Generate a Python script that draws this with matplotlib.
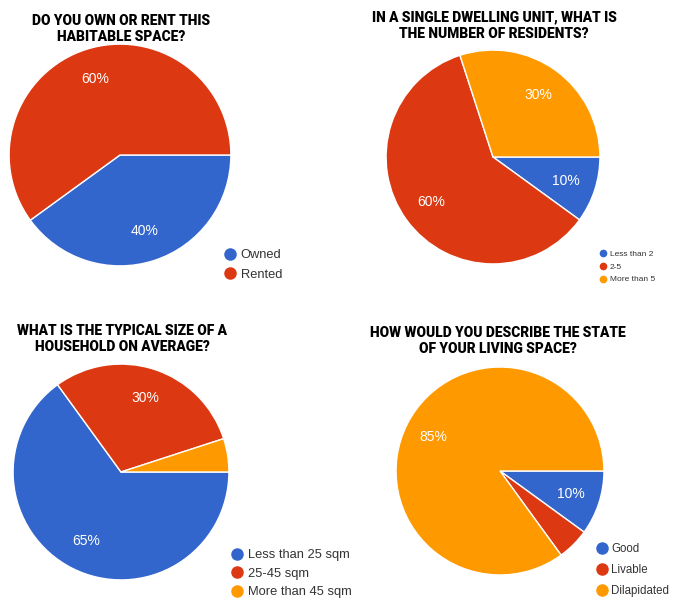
import matplotlib.pyplot as plt
from matplotlib.lines import Line2D

# chart data
titles = [
    "DO YOU OWN OR RENT THIS\nHABITABLE SPACE?",
    "IN A SINGLE DWELLING UNIT, WHAT IS\nTHE NUMBER OF RESIDENTS?",
    "WHAT IS THE TYPICAL SIZE OF A\nHOUSEHOLD ON AVERAGE?",
    "HOW WOULD YOU DESCRIBE THE STATE\nOF YOUR LIVING SPACE?",
]
own_labels = ["Owned", "Rented"]
own_values = [40, 60]
residents_labels = ["Less than 2", "2-5", "More than 5"]
residents_values = [10, 60, 30]
size_labels = ["Less than 25 sqm", "25-45 sqm", "More than 45 sqm"]
size_values = [65, 30, 5]
state_labels = ["Good", "Livable", "Dilapidated"]
state_values = [10, 5, 85]

colors = ["#3366CC", "#DC3912", "#FF9900"]

W, H = 673, 598
fig = plt.figure(figsize=(W / 100, H / 100), dpi=100)

# layout in pixels: pie centre, radius, title centre, legend top-left, legend font size / row gap
panels = [
    dict(vals=own_values, labs=own_labels, c=(120, 155), r=112, tc=(121, 29),
         lg=(224, 249), fs=9.3, ms=8, sp=0.6),
    dict(vals=residents_values, labs=residents_labels, c=(493, 157), r=108, tc=(494, 26),
         lg=(599, 250), fs=6, ms=4.5, sp=0.6),
    dict(vals=size_values, labs=size_labels, c=(121, 472), r=109, tc=(122, 339),
         lg=(231, 549), fs=9.3, ms=8, sp=0.5),
    dict(vals=state_values, labs=state_labels, c=(500, 471), r=105, tc=(498, 341),
         lg=(596, 543), fs=8.3, ms=8, sp=0.8),
]

title_font = dict(family=["Roboto", "DejaVu Sans"], weight="black", fontsize=9.9)

for p, title in zip(panels, titles):
    cx, cy = p["c"]
    r = p["r"]
    ax = fig.add_axes([(cx - r) / W, 1 - (cy + r) / H, 2 * r / W, 2 * r / H])
    ax.pie(
        p["vals"], colors=colors[:len(p["vals"])], startangle=0, counterclock=False,
        autopct=lambda v: f"{v:.0f}%" if v >= 8 else "", pctdistance=0.72,
        wedgeprops=dict(edgecolor="white", linewidth=1),
        textprops=dict(color="white", fontsize=10, family="Liberation Sans"),
    )
    ax.set_xlim(-1.01, 1.01)
    ax.set_ylim(-1.01, 1.01)

    fig.text(p["tc"][0] / W, 1 - p["tc"][1] / H, title, ha="center", va="center",
             linespacing=1.25, **title_font)

    handles = [Line2D([], [], marker="o", linestyle="", markersize=p["ms"],
                      markerfacecolor=colors[i], markeredgecolor=colors[i])
               for i in range(len(p["labs"]))]
    fig.legend(handles, p["labs"], loc="upper left",
               bbox_to_anchor=(p["lg"][0] / W, 1 - p["lg"][1] / H),
               frameon=False, handletextpad=0.3, borderpad=0, borderaxespad=0,
               handlelength=1.0, labelspacing=p["sp"],
               prop=dict(family="Liberation Sans", size=p["fs"]), labelcolor="#333333")

fig.savefig("out.png", dpi=100)
